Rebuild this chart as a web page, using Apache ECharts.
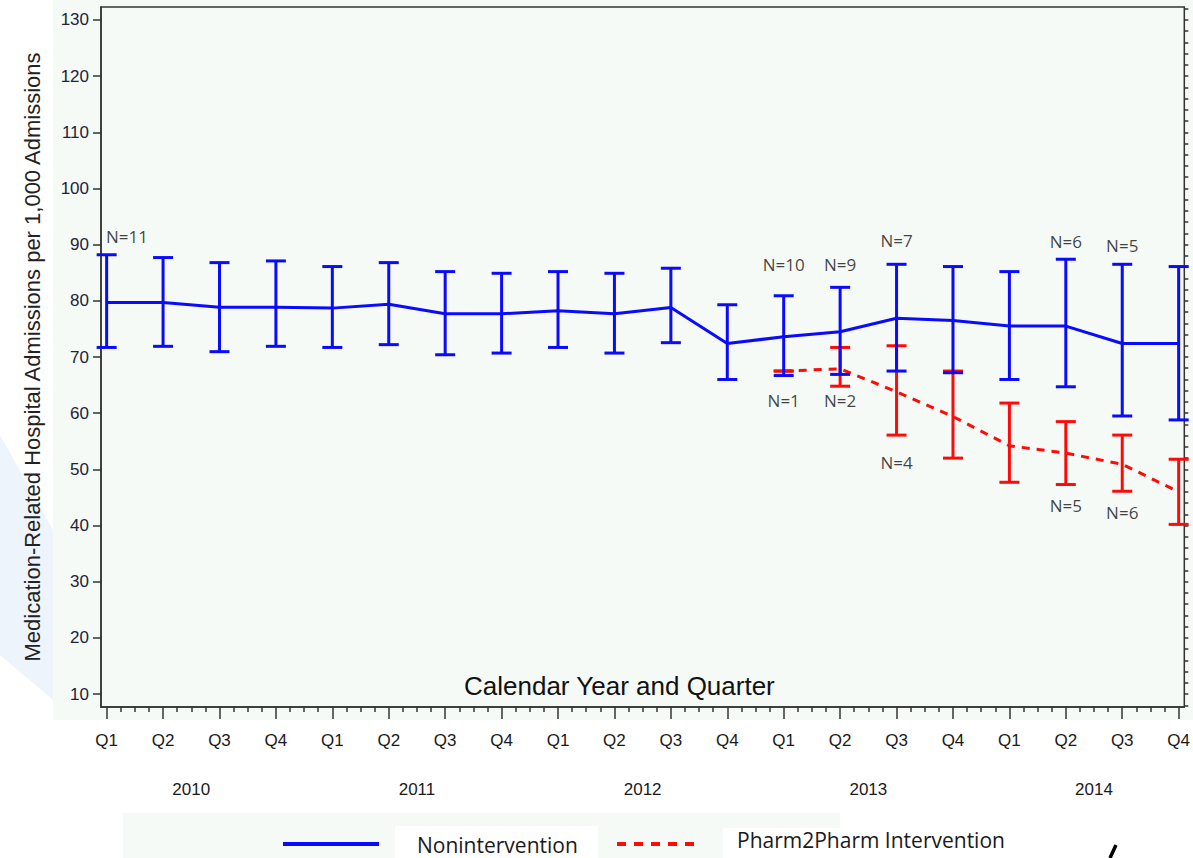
<!DOCTYPE html>
<html>
<head>
<meta charset="utf-8">
<script src="https://cdn.jsdelivr.net/npm/echarts@6/dist/echarts.min.js"></script>
<style>
html,body{margin:0;padding:0;background:#ffffff;}
#chart{width:1193px;height:858px;}
</style>
</head>
<body>
<div id="chart"></div>
<script>
// ---- data ----
const quarterLabels = ['Q1','Q2','Q3','Q4','Q1','Q2','Q3','Q4','Q1','Q2','Q3','Q4','Q1','Q2','Q3','Q4','Q1','Q2','Q3','Q4'];
const yearLabels = ['2010','2011','2012','2013','2014'];
const yTickValues = [10,20,30,40,50,60,70,80,90,100,110,120,130];

const blueMean  = [79.7,79.7,78.85,78.85,78.7,79.4,77.7,77.7,78.25,77.7,78.8,72.4,73.6,74.5,76.9,76.5,75.5,75.5,72.4,72.4];
const blueUpper = [88.2,87.7,86.8,87.1,86.1,86.8,85.2,84.9,85.2,84.9,85.8,79.3,80.9,82.4,86.5,86.1,85.2,87.4,86.5,86.1];
const blueLower = [71.7,71.9,70.95,71.9,71.7,72.2,70.4,70.7,71.7,70.7,72.55,66.0,66.7,66.9,67.5,67.2,66.0,64.7,59.5,58.8];

const redStart = 12;
const redMean  = [67.5,67.9,63.8,59.4,54.2,52.9,50.9,46.0];
const redUpper = [67.5,71.7,72.0,67.5,61.8,58.5,56.1,51.8];
const redLower = [67.5,64.8,56.1,52.0,47.7,47.3,46.1,40.2];

const nText = ['N=11','N=10','N=9','N=7','N=6','N=5','N=1','N=2','N=4','N=5','N=6'];
const nX    = [0.36,12,13,14,17,18,12,13,14,17,18];
const nY    = [91.5,86.4,86.4,90.7,90.5,89.9,62.2,62.2,51.3,43.5,42.4];

const seriesNames = ['Nonintervention','Pharm2Pharm Intervention'];
const yTitle = 'Medication-Related Hospital Admissions per 1,000 Admissions';
const xTitle = 'Calendar Year and Quarter';

// ---- derived ----
const BLUE = '#0a0aff', RED = '#ff0a0a';
const majorX = quarterLabels.map((_, i) => i);
const minorX = [];
for (let i = 0; i < quarterLabels.length - 1; i++) for (let j = 1; j < 4; j++) minorX.push(i + j / 4);
const yearX = yearLabels.map((_, i) => i * 4 + 1.5);
const minorY = [];
for (let v = 8; v <= 132; v += 2) minorY.push(v);

const blueLine = blueMean.map((v, i) => [i, v]);
const blueErr = blueMean.map((v, i) => [i, blueLower[i], blueUpper[i]]);
const redLine = redMean.map((v, k) => [redStart + k, v]);
const redErr = redMean.map((v, k) => [redStart + k, redLower[k], redUpper[k]]);
const nData = nText.map((t, i) => ({ value: [nX[i], nY[i]], name: t }));

function errRender(color) {
  return function (params, api) {
    const x = api.value(0), lo = api.value(1), hi = api.value(2);
    const pLo = api.coord([x, lo]);
    const pHi = api.coord([x, hi]);
    const w = 10;
    const st = { stroke: color, lineWidth: 3 };
    return {
      type: 'group',
      children: [
        { type: 'line', shape: { x1: pLo[0], y1: pLo[1], x2: pHi[0], y2: pHi[1] }, style: st },
        { type: 'line', shape: { x1: pHi[0] - w, y1: pHi[1], x2: pHi[0] + w, y2: pHi[1] }, style: st },
        { type: 'line', shape: { x1: pLo[0] - w, y1: pLo[1], x2: pLo[0] + w, y2: pLo[1] }, style: st }
      ]
    };
  };
}

const XMIN = -0.1, XMAX = 19.1, YMIN = 7.7, YMAX = 132.3;
const axisFont = 'Liberation Sans, Arial, sans-serif';
const textFont = 'Open Sans, Noto Sans, sans-serif';

const chart = echarts.init(document.getElementById('chart'), null, { renderer: 'svg' });
chart.setOption({
  backgroundColor: '#ffffff',
  animation: false,
  graphic: [
    { type: 'rect', z: -10, shape: { x: 53, y: 0, width: 1140, height: 720 }, style: { fill: '#f5faf6' } },
    { type: 'polygon', z: -10, shape: { points: [[0,435],[53,530],[53,700],[0,655]] }, style: { fill: '#edf4fc' } },
    { type: 'text', z: 10, left: 464, top: 673, style: { text: xTitle, font: '26px ' + axisFont, fill: '#111111' } },
    { type: 'rect', z: -10, shape: { x: 123, y: 813, width: 717, height: 45 }, style: { fill: '#f5faf6' } },
    { type: 'rect', z: -9, shape: { x: 395, y: 826, width: 203, height: 40 }, style: { fill: '#ffffff' } },
    { type: 'rect', z: -9, shape: { x: 723, y: 828, width: 130, height: 40 }, style: { fill: '#ffffff' } },
    { type: 'line', shape: { x1: 283, y1: 844, x2: 379, y2: 844 }, style: { stroke: BLUE, lineWidth: 4 } },
    { type: 'line', shape: { x1: 617, y1: 844, x2: 702, y2: 844 }, style: { stroke: RED, lineWidth: 4, lineDash: [9, 8] } },
    { type: 'text', left: 417, top: 834, style: { text: seriesNames[0], font: '21px ' + textFont, fill: '#1a1a1a' } },
    { type: 'text', left: 737, top: 829, style: { text: seriesNames[1], font: '21px ' + textFont, fill: '#1a1a1a' } },
    { type: 'line', shape: { x1: 1116, y1: 845, x2: 1110, y2: 858 }, style: { stroke: '#000000', lineWidth: 3.5 } }
  ],
  grid: {
    left: 101, top: 7, right: 6, bottom: 151,
    show: true, borderColor: '#333333', borderWidth: 1.5, backgroundColor: '#f5faf6'
  },
  xAxis: [
    {
      type: 'value', min: XMIN, max: XMAX, position: 'bottom',
      splitLine: { show: false },
      axisLine: { show: true, onZero: false, lineStyle: { color: '#333333', width: 1.5 } },
      axisTick: { show: true, customValues: majorX, length: 12, lineStyle: { color: '#333333', width: 1.5 } },
      axisLabel: { show: true, customValues: majorX, margin: 25, fontSize: 17, fontFamily: axisFont, color: '#1a1a1a',
        formatter: v => quarterLabels[Math.round(v)] }
    },
    {
      type: 'value', min: XMIN, max: XMAX, position: 'bottom',
      splitLine: { show: false },
      axisLine: { show: false, onZero: false },
      axisTick: { show: true, customValues: minorX, length: 5, lineStyle: { color: '#333333', width: 1.5 } },
      axisLabel: { show: false }
    },
    {
      type: 'value', min: XMIN, max: XMAX, position: 'bottom',
      splitLine: { show: false },
      axisLine: { show: false, onZero: false },
      axisTick: { show: false },
      axisLabel: { show: true, customValues: yearX, margin: 74, fontSize: 17, fontFamily: axisFont, color: '#1a1a1a',
        formatter: v => yearLabels[Math.round((v - 1.5) / 4)] }
    }
  ],
  yAxis: [
    {
      type: 'value', min: YMIN, max: YMAX,
      splitLine: { show: false },
      axisLine: { show: true, onZero: false, lineStyle: { color: '#333333', width: 1.5 } },
      axisTick: { show: true, customValues: yTickValues, length: 8, lineStyle: { color: '#333333', width: 1.5 } },
      axisLabel: { show: true, customValues: yTickValues, margin: 12, fontSize: 17, fontFamily: axisFont, color: '#22223a' },
      name: yTitle, nameLocation: 'middle', nameGap: 58,
      nameTextStyle: { fontSize: 22, fontFamily: axisFont, color: '#222222' }
    },
    {
      type: 'value', min: YMIN, max: YMAX,
      splitLine: { show: false },
      axisLine: { show: false, onZero: false },
      axisTick: { show: true, customValues: minorY, length: 4, lineStyle: { color: '#333333', width: 1.5 } },
      axisLabel: { show: false }
    }
  ],
  series: [
    {
      name: seriesNames[1], type: 'line', data: redLine, symbol: 'none', z: 3,
      lineStyle: { color: RED, width: 3, type: [8, 7] }
    },
    {
      type: 'custom', renderItem: errRender(RED), data: redErr, z: 3,
      encode: { x: 0, y: [1, 2] }
    },
    {
      name: seriesNames[0], type: 'line', data: blueLine, symbol: 'none', z: 4,
      lineStyle: { color: BLUE, width: 3 }
    },
    {
      type: 'custom', renderItem: errRender(BLUE), data: blueErr, z: 4,
      encode: { x: 0, y: [1, 2] }
    },
    {
      type: 'scatter', data: nData, symbolSize: 1, z: 6,
      itemStyle: { color: 'rgba(0,0,0,0)' },
      label: { show: true, position: 'inside', formatter: p => p.name, fontSize: 17, fontFamily: textFont, color: '#111111' }
    }
  ]
});
</script>
</body>
</html>
